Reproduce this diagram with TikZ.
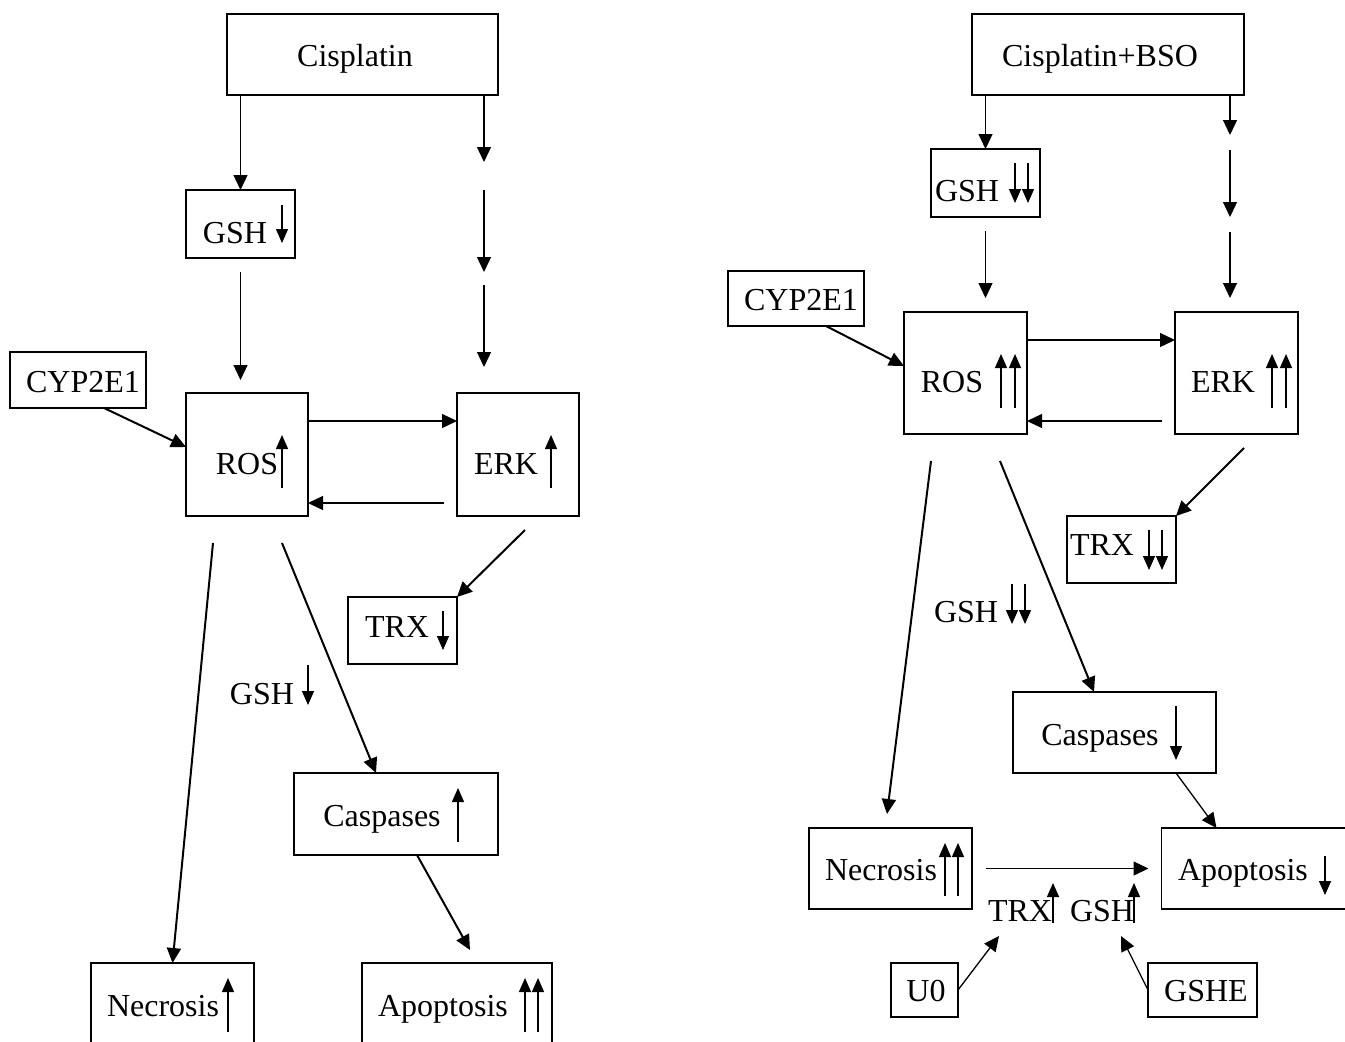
\documentclass[tikz,border=0pt]{standalone}
\usepackage{fontspec}
\setmainfont{Liberation Serif}
\usetikzlibrary{arrows.meta}
\newcommand{\fsz}{\fontsize{32}{37}\selectfont}
\begin{document}
\begin{tikzpicture}[x=1pt,y=-1pt,
  box/.style={draw, line width=1.6pt, inner sep=0pt, outer sep=0pt, font=\fsz},
  txt/.style={inner sep=0pt, anchor=base, font=\fsz},
  arr/.style={line width=1.3pt, -{Triangle[length=15pt,width=14pt]}},
  thk/.style={arr, line width=2pt},
  ind/.style={line width=1.3pt, -{Triangle[length=14pt,width=12pt]}}]
\useasboundingbox (0,0) rectangle (1345,1042);
% ---------------- left panel ----------------
\node[box, minimum width=271, minimum height=81] (cisL) at (362.5,54.5) {};
\node[txt] (cisLt) at (355,66) {Cisplatin};
\node[box, minimum width=109, minimum height=68] (gshL) at (240.5,224) {};
\node[txt] (gshLt) at (235,243) {GSH};
\draw[ind] (282,205) -- (282,243);
\node[box, minimum width=122, minimum height=123] (rosL) at (247,454.5) {};
\node[txt] (rosLt) at (247,474) {ROS};
\draw[ind] (282,488) -- (282,435);
\node[box, minimum width=122, minimum height=123] (erkL) at (518,454.5) {};
\node[txt] (erkLt) at (506,474) {ERK};
\draw[ind] (551,488) -- (551,435);
\node[box, minimum width=136, minimum height=56] (cypL) at (78,380) {};
\node[txt] (cypLt) at (83,392) {CYP2E1};
\node[box, minimum width=109, minimum height=67] (trxL) at (402.5,630.5) {};
\node[txt] (trxLt) at (397,637) {TRX};
\draw[ind] (443,611) -- (443,650);
\node[txt] (gshLf) at (262,704) {GSH};
\draw[ind] (308,665) -- (308,705);
\node[box, minimum width=204, minimum height=82] (casL) at (396,814) {};
\node[txt] (casLt) at (382,826) {Caspases};
\draw[ind] (458,842) -- (458,788);
\node[box, minimum width=163, minimum height=87] (necL) at (172.5,1006.5) {};
\node[txt] (necLt) at (163,1016) {Necrosis};
\draw[ind] (228,1032) -- (228,978);
\node[box, minimum width=190, minimum height=87] (apoL) at (457,1006.5) {};
\node[txt] (apoLt) at (443,1016) {Apoptosis};
\draw[ind] (525,1032) -- (525,978);
\draw[ind] (538,1032) -- (538,978);
% connectors left
\draw[arr] (cisL.south -| gshL.north) -- (gshL.north);
\coordinate (dL0) at (484,95);
\coordinate (dL1) at (484,162);
\coordinate (dL2) at (484,190);
\coordinate (dL3) at (484,272);
\coordinate (dL4) at (484,285);
\coordinate (dL5) at (484,367);
\draw[arr] (dL0) -- (dL1);
\draw[arr] (dL2) -- (dL3);
\draw[arr] (dL4) -- (dL5);
\draw[arr, shorten <=14pt, shorten >=13pt] (gshL.south) -- (gshL.south |- rosL.north);
\draw[arr] ([yshift=33.5pt]rosL.east) -- ([yshift=33.5pt]erkL.west);
\draw[arr, shorten <=13pt] ([yshift=-48.5pt]erkL.west) -- ([yshift=-48.5pt]rosL.east);
\draw[thk] ([xshift=26pt]cypL.south) -- ([yshift=7.5pt]rosL.west);
\draw[thk] ([shift={(7,14)}]erkL.south) -- (trxL.north east);
\draw[thk] ([shift={(35,27)}]rosL.south) -- ([xshift=-20pt]casL.north);
\draw[thk] ([shift={(-34,27)}]rosL.south) -- (necL.north);
\draw[thk] ([xshift=21pt]casL.south) -- ([shift={(13,-13)}]apoL.north);
% ---------------- right panel ----------------
\node[box, minimum width=272, minimum height=81] (cisR) at (1108,54.5) {};
\node[txt] (cisRt) at (1100,66) {Cisplatin+BSO};
\node[box, minimum width=109, minimum height=68] (gshR) at (985.5,183) {};
\node[txt] (gshRt) at (967,201) {GSH};
\draw[ind] (1015,163) -- (1015,203);
\draw[ind] (1028,163) -- (1028,203);
\node[box, minimum width=136, minimum height=55] (cypR) at (796,298.5) {};
\node[txt] (cypRt) at (801,310) {CYP2E1};
\node[box, minimum width=123, minimum height=122] (rosR) at (965.5,373) {};
\node[txt] (rosRt) at (952,392) {ROS};
\draw[ind] (1001,408) -- (1001,354);
\draw[ind] (1015,408) -- (1015,354);
\node[box, minimum width=123, minimum height=122] (erkR) at (1236.5,373) {};
\node[txt] (erkRt) at (1223,392) {ERK};
\draw[ind] (1272,408) -- (1272,354);
\draw[ind] (1286,408) -- (1286,354);
\node[box, minimum width=109, minimum height=67] (trxR) at (1121.5,549.5) {};
\node[txt] (trxRt) at (1102,555) {TRX};
\draw[ind] (1149,530) -- (1149,570);
\draw[ind] (1162,530) -- (1162,570);
\node[txt] (gshRf) at (966,622) {GSH};
\draw[ind] (1012,584) -- (1012,624);
\draw[ind] (1025,584) -- (1025,624);
\node[box, minimum width=203, minimum height=81] (casR) at (1114.5,732.5) {};
\node[txt] (casRt) at (1100,745) {Caspases};
\draw[ind] (1176,706) -- (1176,760);
\node[box, minimum width=163, minimum height=81] (necR) at (890.5,868.5) {};
\node[txt] (necRt) at (881,880) {Necrosis};
\draw[ind] (945,896) -- (945,843);
\draw[ind] (958,896) -- (958,843);
\node[box, minimum width=184, minimum height=81] (apoR) at (1253.5,868.5) {};
\node[txt] (apoRt) at (1243,880) {Apoptosis};
\draw[ind] (1325,856) -- (1325,895);
\node[txt] (trxRf) at (1020,921) {TRX};
\draw[ind] (1053,923) -- (1053,883);
\node[txt] (gshRf2) at (1102,921) {GSH};
\draw[ind] (1134,923) -- (1134,883);
\node[box, minimum width=67, minimum height=54] (u0) at (924.5,990) {};
\node[txt] (u0t) at (926,1001) {U0};
\node[box, minimum width=109, minimum height=54] (gshe) at (1202.5,990) {};
\node[txt] (gshet) at (1206,1001) {GSHE};
% connectors right
\draw[arr] (cisR.south -| gshR.north) -- (gshR.north);
\coordinate (dR0) at (1230,95);
\coordinate (dR1) at (1230,135);
\coordinate (dR2) at (1230,150);
\coordinate (dR3) at (1230,217);
\coordinate (dR4) at (1230,232);
\coordinate (dR5) at (1230,298);
\draw[arr] (dR0) -- (dR1);
\draw[arr] (dR2) -- (dR3);
\draw[arr] (dR4) -- (dR5);
\draw[arr, shorten <=14pt, shorten >=14pt] (gshR.south) -- (gshR.south |- rosR.north);
\draw[arr] ([yshift=33pt]rosR.east) -- ([yshift=33pt]erkR.west);
\draw[arr, shorten <=13pt] ([yshift=-48pt]erkR.west) -- ([yshift=-48pt]rosR.east);
\draw[thk] ([xshift=30pt]cypR.south) -- ([yshift=7pt]rosR.west);
\draw[thk] ([shift={(7.5,14)}]erkR.south) -- (trxR.north east);
\draw[thk] ([shift={(-34.5,27)}]rosR.south) -- ([shift={(-3.5,-14)}]necR.north);
\draw[thk] ([shift={(34.5,27)}]rosR.south) -- ([xshift=-20.5pt]casR.north);
\draw[arr] ([xshift=61.5pt]casR.south) -- ([xshift=-37pt]apoR.north);
\draw[arr, shorten <=14pt, shorten >=13pt] (necR.east) -- (apoR.west);
\draw[arr] (u0.east) -- ([shift={(-21,15)}]trxRf.base);
\draw[arr] (gshe.west) -- ([shift={(19,15)}]gshRf2.base);
\end{tikzpicture}
\end{document}
